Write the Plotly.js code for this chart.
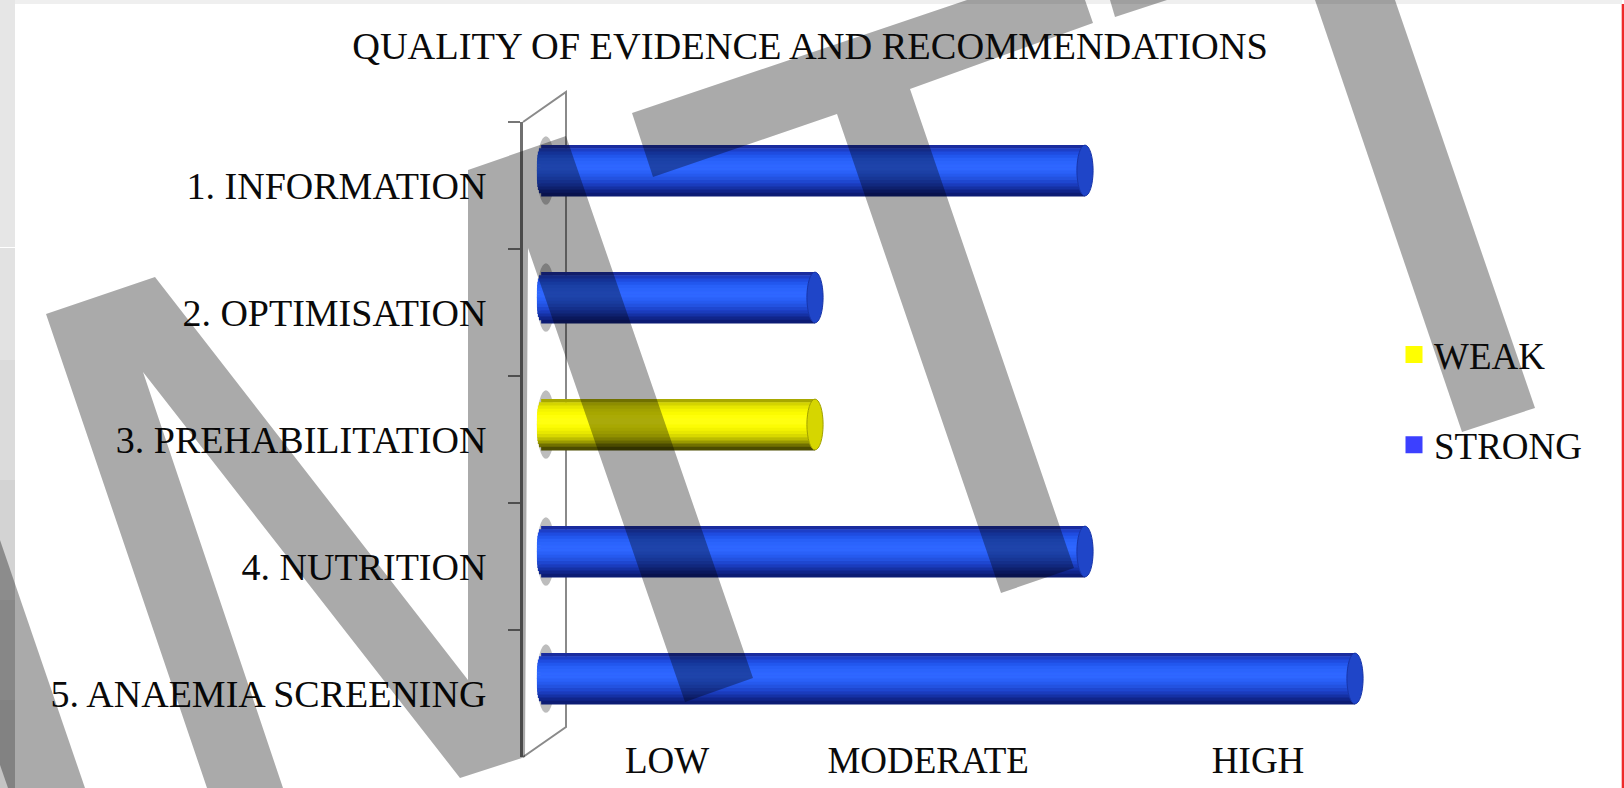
<!DOCTYPE html>
<html>
<head>
<meta charset="utf-8">
<script src="https://cdn.plot.ly/plotly-3.0.1.min.js"></script>
<style>html,body{margin:0;padding:0;background:#fff;overflow:hidden}</style>
</head>
<body>
<div id="chart" style="width:1624px;height:788px"></div>
<script>
// ---- chart data ----
const chartTitle = 'QUALITY OF EVIDENCE AND RECOMMENDATIONS';
const categories = ['1. INFORMATION', '2. OPTIMISATION', '3. PREHABILITATION', '4. NUTRITION', '5. ANAEMIA SCREENING'];
const strongValues = [2, 1, null, 2, 3];
const weakValues = [null, null, 1, null, null];
const qualityTickValues = [0.452, 1.419, 2.641];
const qualityTickLabels = ['LOW', 'MODERATE', 'HIGH'];

// ---- styling ----
const FONT = '"Liberation Serif", "Times New Roman", serif';
const W = 1624, H = 788;
const M = {l: 523, r: 224, t: 122, b: 31};
const strongShades = ['#1a2c9e','#1d3fc8','#1f4ce0','#2257ee','#2860f8','#2b64fc','#2e67ff','#2e67ff','#2a61f8','#265aee','#2352e0','#1e47d0','#1a3cbc','#1531a4','#10258a','#0c1c74'];
const weakShades = ['#a8a800','#d4d400','#e8e800','#f4f400','#fbfb00','#ffff08','#ffff10','#ffff10','#fcfc04','#f4f400','#e8e800','#d8d800','#bcbc00','#9a9a00','#707000','#4c4c00'];
const BAR_WIDTH = 0.40, BAR_SHIFT = -0.118, CAP_RX = 0.03;

function bandTraces(values, shades, name, legendColor) {
  const out = [{
    type: 'bar', orientation: 'h', name: name, legendgroup: name, showlegend: true,
    y: categories, x: values, width: 0.2, offset: BAR_SHIFT - 0.1,
    marker: {color: legendColor, line: {color: legendColor, width: 9}}, hoverinfo: 'x+y'
  }];
  const n = shades.length, step = BAR_WIDTH / n;
  shades.forEach((c, k) => {
    // left end of each band follows the round end of the cylinder
    const t = (k + 0.5) / n * 2 - 1;
    const start = -CAP_RX * Math.sqrt(1 - t * t * t * t);
    out.push({
      type: 'bar', orientation: 'h', showlegend: false, legendgroup: name,
      y: categories, x: values.map(v => v === null ? null : v - start), base: start, width: step + 0.004,
      offset: BAR_SHIFT - BAR_WIDTH / 2 + k * step,
      marker: {color: c, line: {width: 0}}, hoverinfo: 'skip'
    });
  });
  return out;
}
const traces = bandTraces(weakValues, weakShades, 'WEAK', '#ffff00')
  .concat(bandTraces(strongValues, strongShades, 'STRONG', '#3c40ff'));

// pixel polygon -> paper-referenced path (decoration only, no data)
const px = x => (x - M.l) / (W - M.l - M.r);
const py = y => (H - M.b - y) / (H - M.t - M.b);
function polyPath(pts, close) {
  return pts.map((p, i) => (i ? 'L' : 'M') + px(p[0]) + ',' + py(p[1])).join(' ') + (close ? ' Z' : '');
}
function deco(pts, fill, layer) {
  return {type: 'path', xref: 'paper', yref: 'paper', path: polyPath(pts, true), fillcolor: fill, line: {width: 0}, layer: layer};
}
const shapes = [];
// page frame
shapes.push(deco([[0,0],[1622,0],[1622,4],[0,4]], '#efefef', 'below'));
shapes.push(deco([[0,0],[15,0],[15,247],[0,247]], '#e6e6e6', 'below'));
[['#e2e2e2',248,360],['#dbdbdb',360,480],['#d3d3d3',480,600],['#cbcbcb',600,700],['#c4c4c4',700,788]].forEach(s =>
  shapes.push(deco([[0,s[1]],[15,s[1]],[15,s[2]],[0,s[2]]], s[0], 'below')));
shapes.push(deco([[1621.7,4],[1624,4],[1624,788],[1621.7,788]], '#ee2a2a', 'below'));
// 3D wall bracket
shapes.push({type: 'path', xref: 'paper', yref: 'paper', layer: 'below',
  path: polyPath([[523,122],[566,92],[566,727],[523,757]], false), line: {color: '#8a8a8a', width: 2}});

// cylinder caps, from the data
function caps(values, shadow, capFill, capLine) {
  values.forEach((v, i) => {
    if (v === null) return;
    const c = i + BAR_SHIFT;
    shapes.push({type: 'circle', xref: 'x', yref: 'y', layer: 'below', x0: -0.03, x1: 0.037, y0: c - BAR_WIDTH/2 - 0.07, y1: c + BAR_WIDTH/2 + 0.07,
      fillcolor: shadow, line: {width: 0}});
    shapes.push({type: 'circle', xref: 'x', yref: 'y', layer: 'above', x0: v - CAP_RX, x1: v + CAP_RX, y0: c - BAR_WIDTH/2, y1: c + BAR_WIDTH/2,
      fillcolor: capFill, line: {color: capLine, width: 1}});
  });
}
caps(strongValues, 'rgba(90,90,90,0.4)', '#1f45c8', '#1734a8');
caps(weakValues, 'rgba(90,90,90,0.4)', '#d6d600', '#a0a000');

// watermark
const WM = 'rgba(0,0,0,0.333)';
[
  [[46,314],[155,277],[468,680],[468,170],[566,136],[753,678],[685,702],[528,248],[525,757],[460,778],[143,372],[283,788],[207,788]],
  [[653,177],[632,113],[967,0],[1085,0],[1093,23],[910,89],[1074,568],[1001,593],[837,114]],
  [[1110,0],[1115,17],[1167,0]],
  [[1315,0],[1395,0],[1535,408],[1462,432]],
  [[0,540],[85,788],[8,788],[0,765]]
].forEach(p => shapes.push(deco(p, WM, 'above')));

const layout = {
  width: W, height: H,
  margin: {l: M.l, r: M.r, t: M.t, b: M.b, pad: 0, autoexpand: false},
  paper_bgcolor: '#ffffff', plot_bgcolor: 'rgba(0,0,0,0)',
  barmode: 'overlay', showlegend: true, hovermode: false,
  font: {family: FONT, color: '#0a0a0a', size: 38},
  title: {text: chartTitle, xref: 'container', x: 810 / W, xanchor: 'center', yref: 'container', y: 1 - 46 / H, yanchor: 'middle',
    font: {family: FONT, size: 38.4, color: '#0a0a0a'}},
  xaxis: {range: [(M.l - 545) / 270, (W - M.r - 545) / 270], tickmode: 'array', tickvals: qualityTickValues, ticktext: qualityTickLabels,
    showgrid: false, zeroline: false, showline: false, ticks: '', ticklabelstandoff: -22,
    tickfont: {family: FONT, size: 37, color: '#0a0a0a'}},
  yaxis: {type: 'category', categoryorder: 'array', categoryarray: categories, range: [4.5, -0.5], tickson: 'boundaries',
    ticks: 'outside', ticklen: 12, tickwidth: 2, tickcolor: '#777777', showline: true, linecolor: '#707070', linewidth: 3,
    showgrid: false, zeroline: false, ticklabelstandoff: 26, tickfont: {family: FONT, size: 38, color: '#0a0a0a'}},
  legend: {x: px(1394), y: py(324), xanchor: 'left', yanchor: 'top', bgcolor: 'rgba(0,0,0,0)', borderwidth: 0,
    traceorder: 'grouped', tracegroupgap: 39, itemclick: false, itemdoubleclick: false,
    font: {family: FONT, size: 37, color: '#0a0a0a'}},
  shapes: shapes
};
Plotly.newPlot('chart', traces, layout, {staticPlot: true, displayModeBar: false});
</script>
</body>
</html>
